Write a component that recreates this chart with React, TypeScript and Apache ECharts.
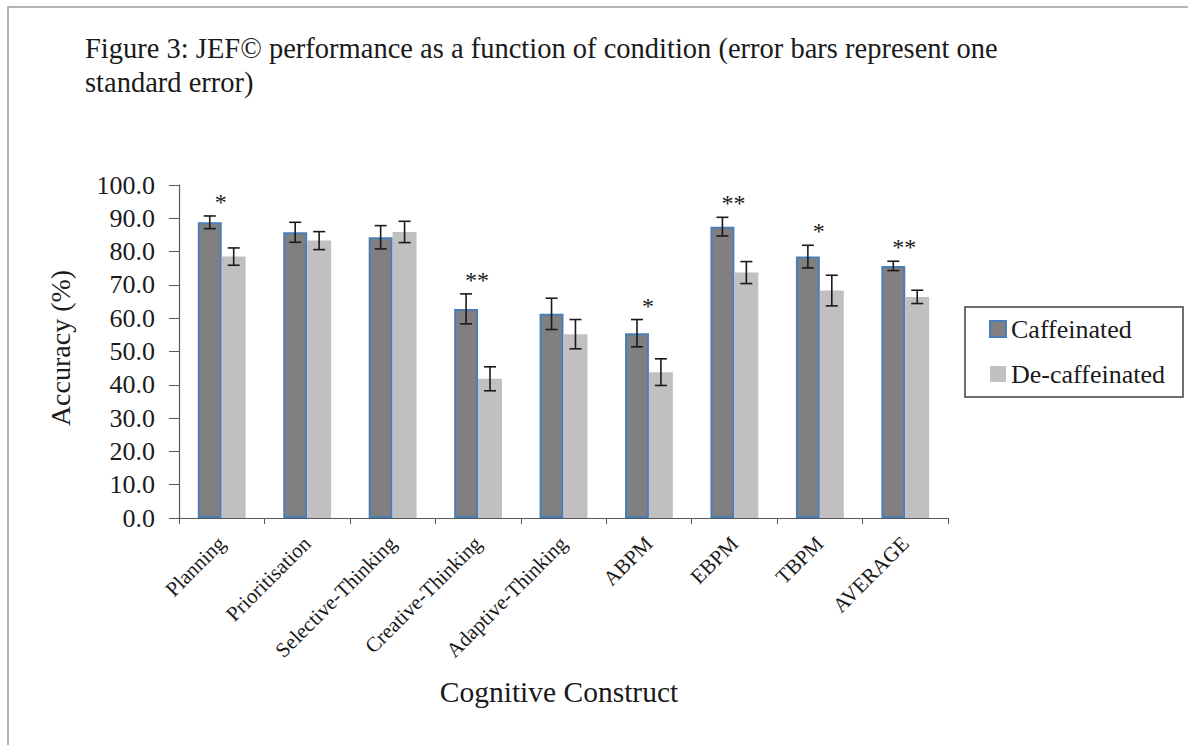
import React, { useEffect, useRef } from "react";
import * as echarts from "echarts";

const categories = [
  "Planning",
  "Prioritisation",
  "Selective-Thinking",
  "Creative-Thinking",
  "Adaptive-Thinking",
  "ABPM",
  "EBPM",
  "TBPM",
  "AVERAGE",
];
const caffeinated = [88.8, 85.8, 84.3, 62.8, 61.3, 55.5, 87.5, 78.5, 75.7];
const caffeinatedSE = [1.9, 3.0, 3.5, 4.5, 4.7, 4.1, 2.8, 3.4, 1.4];
const decaffeinated = [78.5, 83.3, 85.9, 41.8, 55.2, 43.8, 73.7, 68.3, 66.4];
const decaffeinatedSE = [2.6, 2.7, 3.2, 3.6, 4.4, 4.0, 3.3, 4.6, 2.0];
const significance = ["*", "", "", "**", "", "*", "**", "*", "**"];
const yTicks = [0, 10, 20, 30, 40, 50, 60, 70, 80, 90, 100];

const FONT = '"Liberation Serif", "Times New Roman", serif';
const CAT_GAP = 0.44;

function makeErrorRender(sign: number, withSig: boolean) {
  return (params: any, api: any) => {
    const i = api.value(0);
    const v = api.value(1);
    const e = api.value(2);
    const catW = api.size([1, 0])[0];
    const bw = (catW * (1 - CAT_GAP)) / 2;
    const c = api.coord([i, v]);
    const x = c[0] + (sign * bw) / 2;
    const yt = api.coord([i, v + e])[1];
    const yb = api.coord([i, v - e])[1];
    const cap = 6;
    const st = { stroke: "#1a1a1a", lineWidth: 1.6 };
    const children: any[] = [
      { type: "line", shape: { x1: x, y1: yt, x2: x, y2: yb }, style: st },
      { type: "line", shape: { x1: x - cap, y1: yt, x2: x + cap, y2: yt }, style: st },
      { type: "line", shape: { x1: x - cap, y1: yb, x2: x + cap, y2: yb }, style: st },
    ];
    if (withSig) {
      const s = significance[i];
      if (s) {
        children.push({
          type: "text",
          x: c[0] - 1,
          y: yt - 2,
          style: {
            text: s,
            font: `24px ${FONT}`,
            fill: "#1a1a1a",
            align: "center",
            verticalAlign: "bottom",
          },
        });
      }
    }
    return { type: "group", children };
  };
}

export default function App() {
  const ref = useRef<HTMLDivElement>(null);
  useEffect(() => {
    document.body.style.margin = "0";
    const chart = echarts.init(ref.current!, null, { renderer: "svg" });
    const option: any = {
      animation: false,
      backgroundColor: "#ffffff",
      title: {
        text:
          "Figure 3: JEF\u00a9 performance as a function of condition (error bars represent one\nstandard error)",
        left: 80,
        top: 26,
        textStyle: {
          fontFamily: FONT,
          fontSize: 28.5,
          fontWeight: "normal",
          color: "#1a1a1a",
          lineHeight: 34,
        },
      },
      legend: {
        orient: "vertical",
        left: 984,
        top: 311,
        itemWidth: 16,
        itemHeight: 16,
        itemGap: 19,
        icon: "rect",
        textStyle: { fontFamily: FONT, fontSize: 26, color: "#1a1a1a" },
        data: ["Caffeinated", "De-caffeinated"],
      },
      grid: { left: 179, right: 240, top: 185, bottom: 227 },
      xAxis: {
        type: "category",
        data: categories,
        axisLine: { lineStyle: { color: "#595959", width: 1.2 } },
        axisTick: { show: true, alignWithLabel: false, length: 6, lineStyle: { color: "#595959" } },
        axisLabel: {
          rotate: 45,
          margin: 22,
          fontFamily: FONT,
          fontSize: 21,
          color: "#1a1a1a",
        },
      },
      yAxis: {
        type: "value",
        min: yTicks[0],
        max: yTicks[yTicks.length - 1],
        interval: 10,
        splitLine: { show: false },
        axisLine: { show: true, lineStyle: { color: "#595959", width: 1.2 } },
        axisTick: { show: true, length: 10, lineStyle: { color: "#595959" } },
        axisLabel: {
          margin: 24,
          fontFamily: FONT,
          fontSize: 26,
          color: "#1a1a1a",
          formatter: (v: number) => v.toFixed(1),
        },
      },
      series: [
        {
          name: "Caffeinated",
          type: "bar",
          data: caffeinated,
          barGap: "0%",
          barCategoryGap: CAT_GAP * 100 + "%",
          itemStyle: { color: "#808080", borderColor: "#4a7ebb", borderWidth: 2 },
        },
        {
          name: "De-caffeinated",
          type: "bar",
          data: decaffeinated,
          barGap: "0%",
          barCategoryGap: CAT_GAP * 100 + "%",
          itemStyle: { color: "#c0c0c0" },
        },
        {
          type: "custom",
          renderItem: makeErrorRender(-1, true),
          data: caffeinated.map((v, i) => [i, v, caffeinatedSE[i]]),
          z: 5,
          silent: true,
        },
        {
          type: "custom",
          renderItem: makeErrorRender(1, false),
          data: decaffeinated.map((v, i) => [i, v, decaffeinatedSE[i]]),
          z: 5,
          silent: true,
        },
      ],
      graphic: [
        {
          type: "rect",
          shape: { x: 8, y: 7, width: 1200, height: 760 },
          style: { fill: "none", stroke: "#9a9a9a", lineWidth: 1.5 },
          silent: true,
        },
        {
          type: "rect",
          shape: { x: 965, y: 307, width: 218, height: 90 },
          style: { fill: "none", stroke: "#404040", lineWidth: 1.5 },
          silent: true,
        },
        {
          type: "text",
          x: 60,
          y: 348,
          rotation: Math.PI / 2,
          style: {
            text: "Accuracy (%)",
            font: `28px ${FONT}`,
            fill: "#1a1a1a",
            align: "center",
            verticalAlign: "middle",
          },
        },
        {
          type: "text",
          x: 559,
          y: 692,
          style: {
            text: "Cognitive Construct",
            font: `29.5px ${FONT}`,
            fill: "#1a1a1a",
            align: "center",
            verticalAlign: "middle",
          },
        },
      ],
    };
    chart.setOption(option);
    return () => chart.dispose();
  }, []);
  return <div ref={ref} style={{ width: 1188, height: 745 }} />;
}
